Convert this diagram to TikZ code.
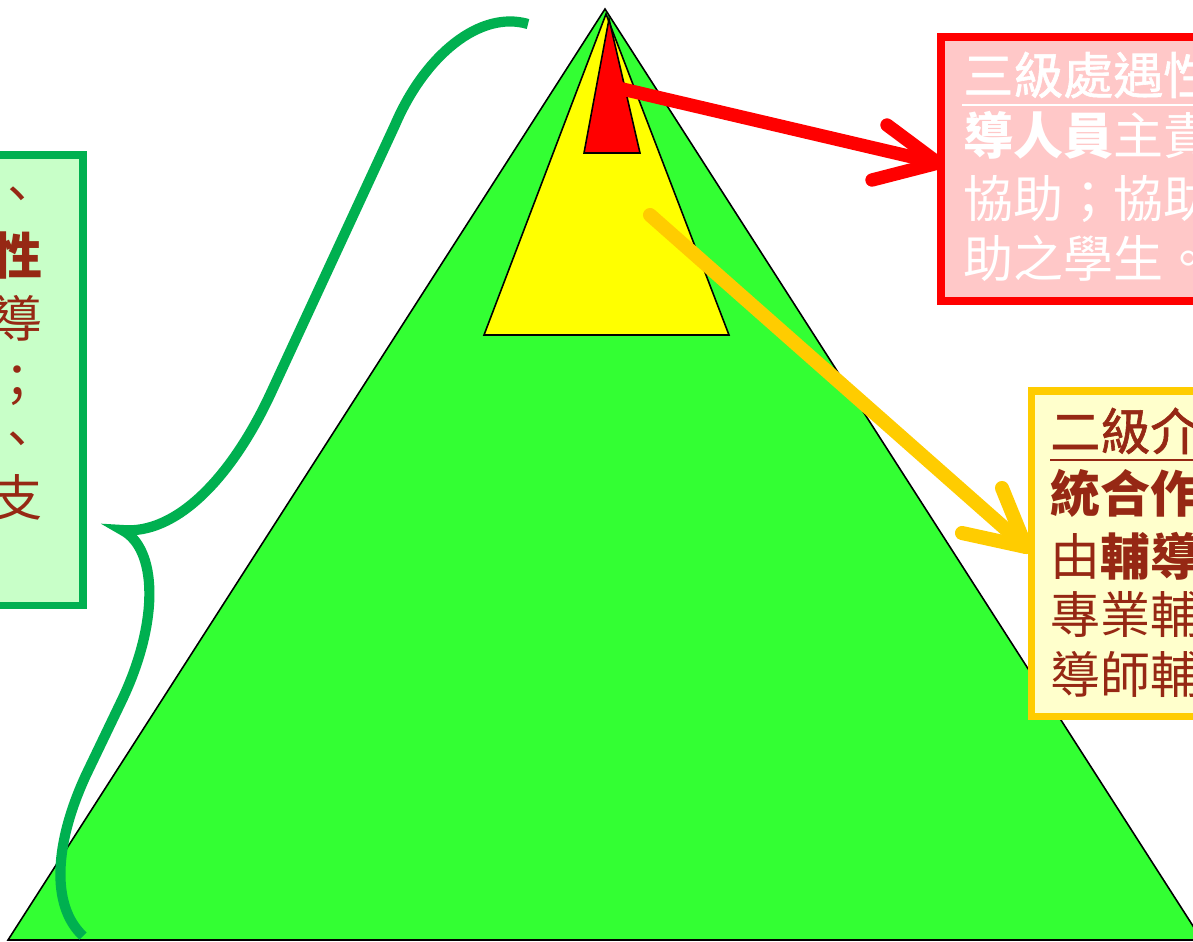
\documentclass[tikz,border=0pt]{standalone}
\usepackage{fontspec}
\newfontfamily\cjk{Noto Sans CJK TC}
\newfontfamily\cjkm[FakeBold=1.2]{Noto Sans CJK TC}
\definecolor{trigreen}{HTML}{33FF33}
\definecolor{triyellow}{HTML}{FFFF00}
\definecolor{trired}{HTML}{FF0000}
\definecolor{bracegreen}{HTML}{00B050}
\definecolor{boxgreen}{HTML}{C8FFC8}
\definecolor{boxpink}{HTML}{FFC8C8}
\definecolor{boxyellow}{HTML}{FFFFCC}
\definecolor{arrowyellow}{HTML}{FFCC00}
\definecolor{txtred}{RGB}{150,40,20}
\tikzset{
  tri/.style={draw=black, line width=0.9pt, line join=miter},
  panel/.style={line width=4pt},
  txt/.style={inner sep=0pt, anchor=base west, font=\cjk\fontsize{28.45pt}{34pt}\selectfont},
  txtr/.style={txt, anchor=base east},
  arrowline/.style={line width=7.6pt, line cap=round, line join=round},
  brace/.style={draw=bracegreen, line width=5.8pt, line cap=butt}
}
\begin{document}
\begin{tikzpicture}[x=0.02cm,y=-0.02cm]
\clip (0,0) rectangle (1193,941);
\fill[white] (0,0) rectangle (1193,941);

% pyramid
\filldraw[tri, fill=trigreen] (605,9) -- (8,940) -- (1202,940) -- cycle;
\filldraw[tri, fill=triyellow] (606,14) -- (484,335) -- (729,335) -- cycle;
\filldraw[tri, fill=trired] (609,19) -- (584,153) -- (640,153) -- cycle;

% brace
\draw[brace] (528,24) .. controls (480,10) and (425,55) .. (395,125)
  -- (270,395) .. controls (230,480) and (175,535) .. (122,530)
  .. controls (157,548) and (160,620) .. (122,700)
  -- (86,775) .. controls (55,842) and (50,905) .. (83,936);

% arrows
\coordinate (rs) at (618,88);
\coordinate (rt) at (938,163);
\coordinate (rb1) at (887,125);
\coordinate (rb2) at (872,180);
\draw[arrowline, draw=trired] (rs) -- (rt);
\draw[arrowline, draw=trired] (rb1) -- (rt) -- (rb2);

\coordinate (ys) at (650,215);
\coordinate (yt) at (1026,547);
\coordinate (yb1) at (1002,488);
\coordinate (yb2) at (962,533);
\draw[arrowline, draw=arrowyellow, line width=8pt] (ys) -- (yt);
\draw[arrowline, draw=arrowyellow, line width=8pt] (yb1) -- (yt) -- (yb2);

% green panel
\filldraw[panel, draw=bracegreen, fill=boxgreen] (-20,155) rectangle (83,605);
\node[txtr, text=txtred] (g1) at (43,212) {、};
\node[txtr, text=txtred] (g2) at (43,274) {\bfseries 性};
\node[txtr, text=txtred] (g3) at (43,337) {導};
\node[txtr, text=txtred] (g4) at (43,400) {；};
\node[txtr, text=txtred] (g5) at (43,457) {、};
\node[txtr, text=txtred] (g6) at (43,516) {支};

% red panel
\filldraw[panel, draw=trired, fill=boxpink] (941,37) rectangle (1240,301);
\node[txt, text=white] (r1) at (963,94) {\cjkm 三級處遇性};
\draw[white, line width=1.4pt] (962,105) -- (1200,105);
\node[txt, text=white] (r2) at (963,154) {\bfseries 導人員\mdseries 主責};
\node[txt, text=white] (r3) at (963,217) {協助；協助};
\node[txt, text=white] (r4) at (963,277) {助之學生。};

% yellow panel
\filldraw[panel, draw=arrowyellow, fill=boxyellow] (1031,391) rectangle (1240,716);
\node[txt, text=txtred] (y1) at (1050,450) {\cjkm 二級介};
\draw[txtred, line width=1.4pt] (1050,460) -- (1200,460);
\node[txt, text=txtred] (y2) at (1050,512) {\bfseries 統合作};
\node[txt, text=txtred] (y3) at (1050,575) {由\bfseries 輔導};
\node[txt, text=txtred] (y4) at (1050,633) {專業輔};
\node[txt, text=txtred] (y5) at (1050,693) {導師輔};
\end{tikzpicture}
\end{document}
